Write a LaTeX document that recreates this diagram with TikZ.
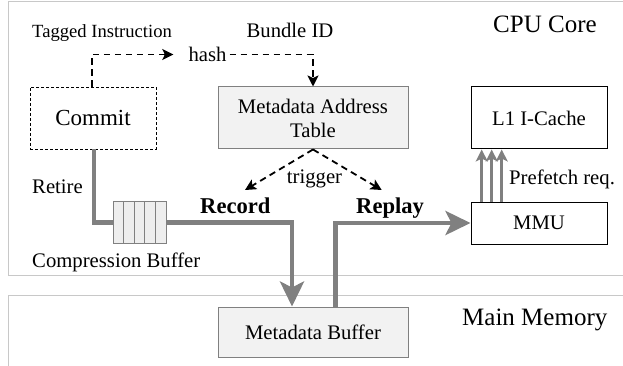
\documentclass[tikz,border=0pt]{standalone}
\usepackage{fontspec}
\setmainfont{Liberation Serif}
\usetikzlibrary{arrows.meta,calc}
\definecolor{framegray}{HTML}{C8C8C8}
\definecolor{arrowgray}{HTML}{808080}
\definecolor{boxfill}{HTML}{F2F2F2}
\definecolor{cellfill}{HTML}{EEEEEE}
\begin{document}
\begin{tikzpicture}[x=1pt,y=-1pt,
  lbl/.style={font=\fontsize{20.7}{24}\selectfont, inner sep=0pt},
  plainbox/.style={draw=black, line width=1pt, minimum width=136pt, inner sep=0pt, font=\fontsize{20.7}{24}\selectfont},
  graybox/.style={draw=arrowgray, fill=boxfill, line width=1pt, minimum width=190pt, inner sep=0pt, align=center, font=\fontsize{20.7}{24}\selectfont},
  regionframe/.style={draw=framegray, line width=1pt},
  bigline/.style={draw=arrowgray, line width=4.5pt},
  bigtip/.style={-{Stealth[length=25pt,width=24pt,inset=6pt]}},
  pfline/.style={draw=arrowgray, line width=2.7pt, -{Stealth[length=12pt,width=12pt,inset=3pt]}},
  dashln/.style={line width=1.8pt, dash pattern=on 6.5pt off 4.5pt, -{Stealth[length=11pt,width=11pt,inset=2.5pt]}},
]
\useasboundingbox (0,0) rectangle (623,366);
\clip (0,0) rectangle (623,366);
% regions
\draw[regionframe] (8,2) rectangle (650,275.7);
\draw[regionframe] (8,295.5) rectangle (650,390);

% boxes
\node[draw=black, line width=0.9pt, dash pattern=on 3pt off 2pt, minimum width=126pt, minimum height=62pt, inner sep=0pt,
      font=\fontsize{23}{26}\selectfont] (commit) at (93,118) {Commit};
\node[graybox, minimum height=62pt] (mat) at (313,118) {Metadata Address\\Table};
\node[plainbox, minimum height=62pt] (l1) at (539,118) {L1 I-Cache};
\node[plainbox, minimum height=42pt] (mmu) at (539,223) {MMU};
\node[graybox, minimum height=50pt] (mbuf) at (313,332) {Metadata Buffer};

% labels
\node[lbl, font=\fontsize{18.6}{22}\selectfont, anchor=base west] (tagged) at (32,37.5) {Tagged Instruction};
\node[lbl, anchor=base] (bundle) at (290,37.5) {Bundle ID};
\node[lbl, font=\fontsize{25}{28}\selectfont, anchor=base west] (cpucore) at (493,32.5) {CPU Core};
\node[lbl, font=\fontsize{25}{28}\selectfont, anchor=base west] (mainmem) at (462,325.7) {Main Memory};
\node[lbl, anchor=base west] (retire) at (32,193.3) {Retire};
\node[lbl, anchor=base west] (compbuf) at (32,267.3) {Compression Buffer};
\node[lbl, font=\bfseries\fontsize{22.6}{26}\selectfont, anchor=base west] (record) at (200,213.3) {Record};
\node[lbl, font=\bfseries\fontsize{22.6}{26}\selectfont, anchor=base west] (replay) at (356,213.3) {Replay};
\node[lbl, anchor=base] (trigger) at (314.5,183.3) {trigger};
\node[lbl, anchor=base west] (prefetch) at (509,185) {Prefetch req.};
\node[lbl, inner sep=3pt] (hash) at (207.5,54.5) {hash};

% main data path
\node[draw=arrowgray, fill=cellfill, line width=1pt, minimum width=53.3pt, minimum height=41.7pt, inner sep=0pt] (cbuf) at (140,222.5) {};
\draw[bigline] ($(commit.south)+(1,0)$) |- (cbuf.west);
\draw[bigline, bigtip] (cbuf.east) -| ($(mbuf.north)+(-21,0)$);
\node[draw=arrowgray, fill=cellfill, line width=1pt, minimum width=53.3pt, minimum height=41.7pt, inner sep=0pt] (cbufc) at (cbuf) {};
\foreach \i in {1,...,4}
  \draw[draw=arrowgray, line width=1pt] ($(cbufc.north west)+(\i*10.66,0)$) -- ($(cbufc.south west)+(\i*10.66,0)$);
\draw[bigline, bigtip] ($(mbuf.north)+(22.5,0)$) |- (mmu.west);

% prefetch requests
\foreach \dx in {-57.3,-47.3,-37.3}
  \draw[pfline] ($(mmu.north)+(\dx,0)$) -- ($(l1.south)+(\dx,0)$);

% dashed control paths
\draw[dashln, shorten >=12pt] ($(commit.north)+(-1,0)$) |- (hash.west);
\draw[dashln] (hash.east) -| (mat.north);
\coordinate (trigL) at (245,190);
\coordinate (trigR) at (381.7,190);
\draw[dashln] (mat.south) -- (trigL);
\draw[dashln] (mat.south) -- (trigR);
\end{tikzpicture}
\end{document}
